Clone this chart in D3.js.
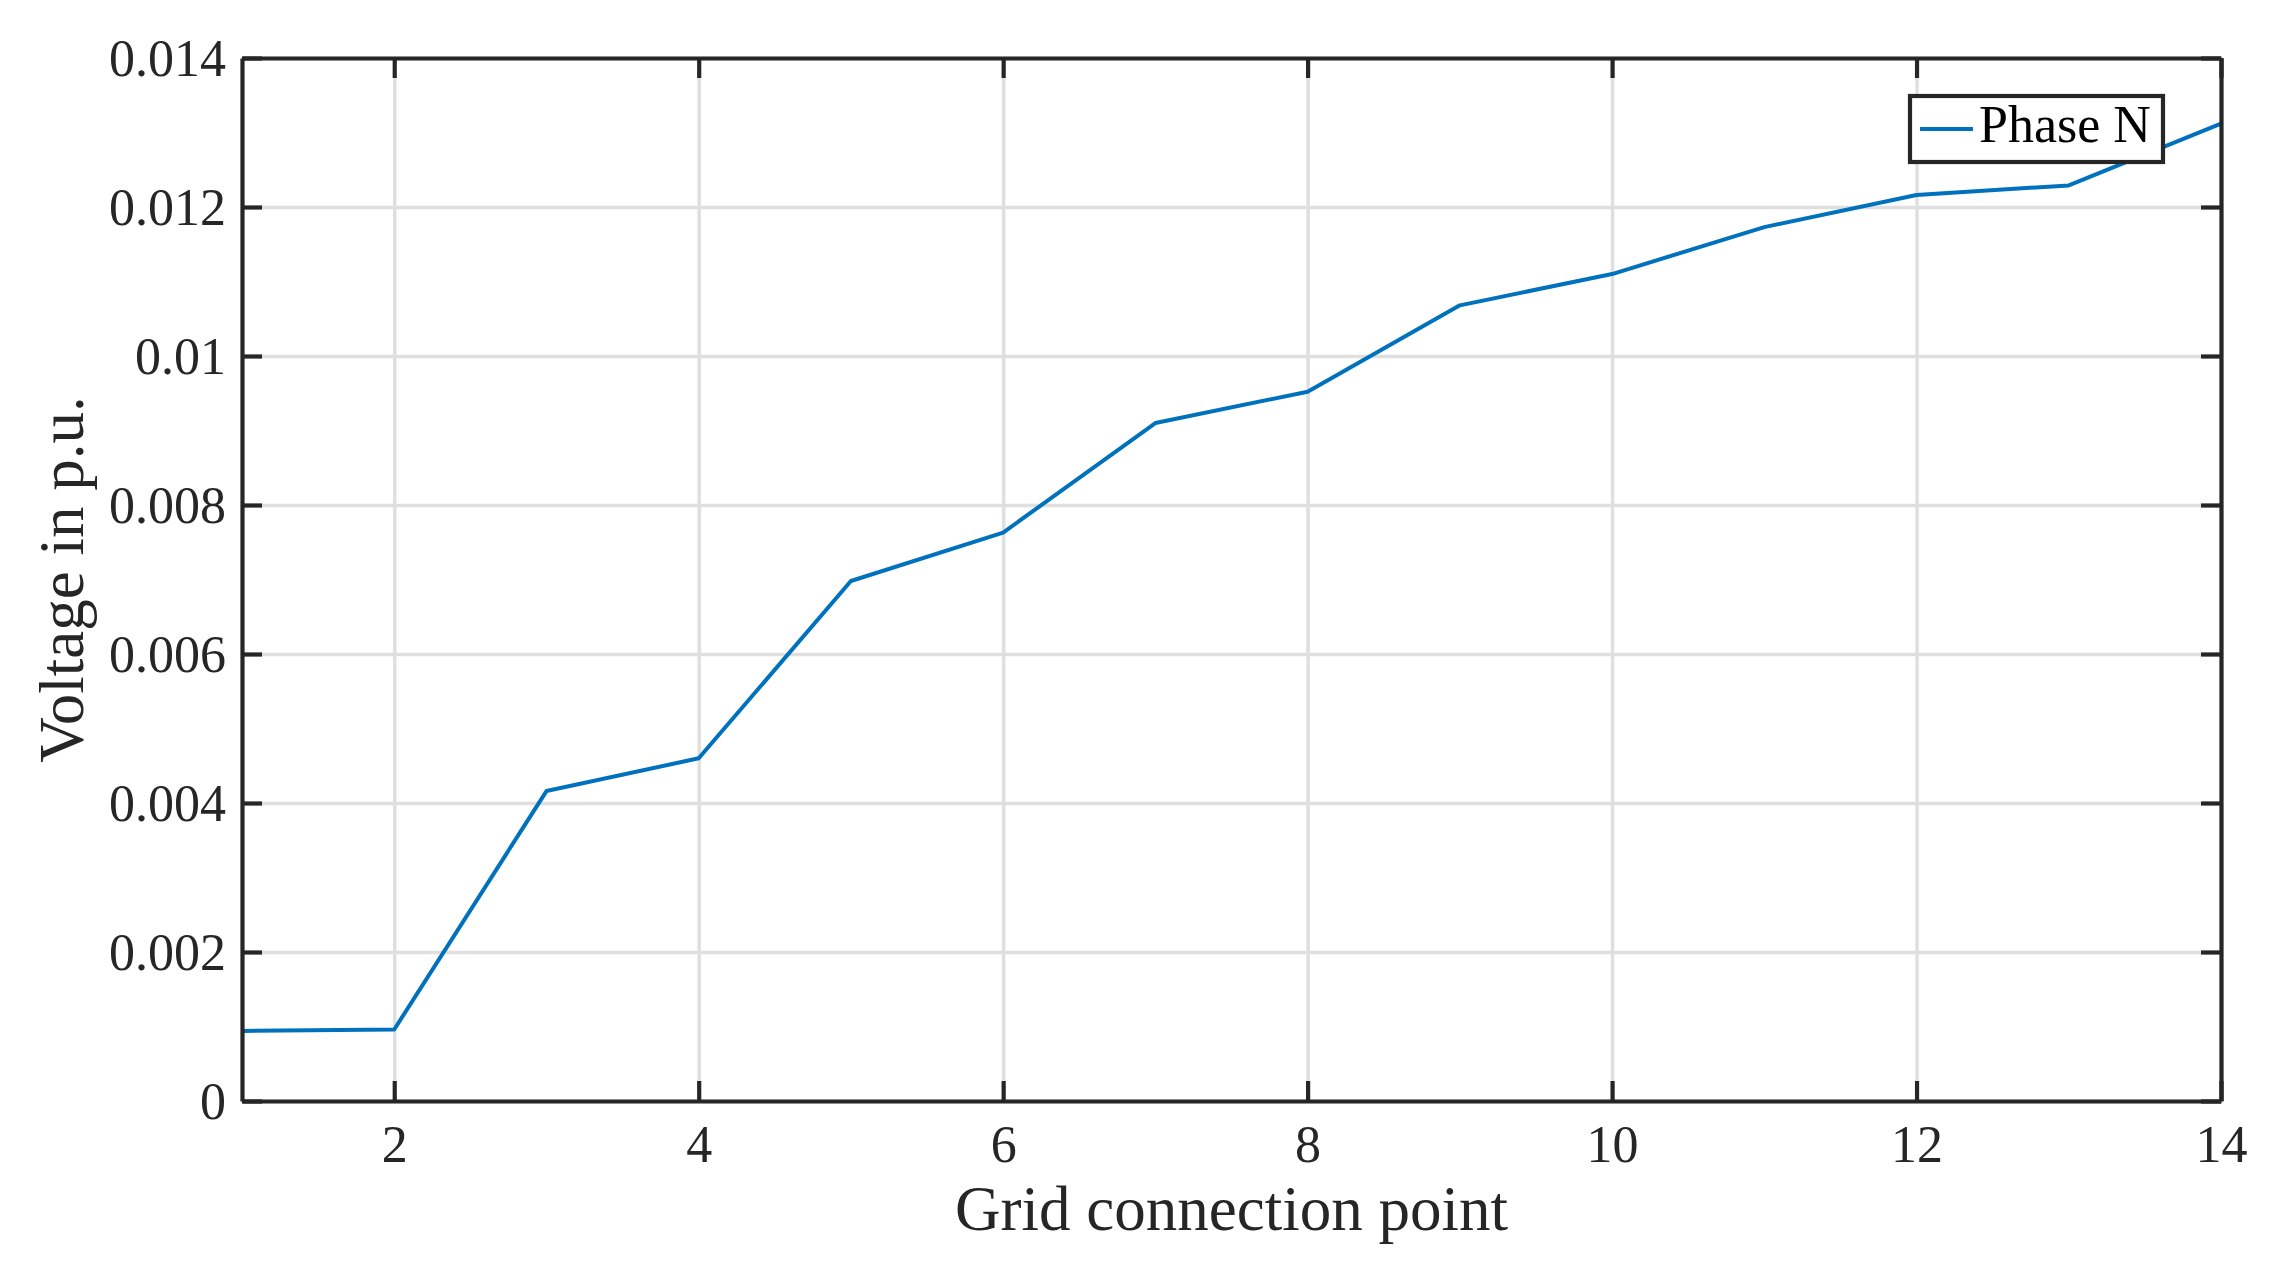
<!DOCTYPE html>
<meta charset="utf-8">
<style>
body { margin:0; background:#fff; }
svg { display:block; }
text { font-family: "Liberation Serif", "DejaVu Serif", serif; fill:#262626; }
.grid line { stroke:#dfdfdf; stroke-width:3.5px; }
.grid path { display:none; }
.axis path, .axis line { stroke:#262626; stroke-width:4.2px; }
.tick text { font-size:52px; }
</style>
<body>
<svg width="2287" height="1285" id="vis"></svg>
</body>
<script src="https://cdnjs.cloudflare.com/ajax/libs/d3/7.8.5/d3.min.js"></script>
<script>
// grid connection points and phase N voltage (p.u.)
var points = [1,2,3,4,5,6,7,8,9,10,11,12,13,14];
var phaseN = [0.00094,0.00096,0.00416,0.00460,0.00698,0.00763,0.00910,0.00952,0.01068,0.01110,0.01173,0.01216,0.01229,0.01312];
var xTicks = [2,4,6,8,10,12,14];
var yTicks = [0,0.002,0.004,0.006,0.008,0.01,0.012,0.014];
var yTickLabels = ["0","0.002","0.004","0.006","0.008","0.01","0.012","0.014"];

var svg = d3.select("svg"),
    margin = {top: 58, right: 66, bottom: 184, left: 242},
    width = +svg.attr("width") - margin.left - margin.right,
    height = +svg.attr("height") - margin.top - margin.bottom;

var x = d3.scaleLinear().domain([1, 14]).range([0, width]),
    y = d3.scaleLinear().domain([0, 0.014]).range([height, 0]);

var g = svg.append("g")
    .attr("transform", "translate(" + margin.left + "," + margin.top + ")");

// grid
g.append("g").attr("class", "grid")
    .attr("transform", "translate(0," + height + ")")
    .call(d3.axisBottom(x).tickValues(xTicks).tickSize(-height).tickFormat(""));
g.append("g").attr("class", "grid")
    .call(d3.axisLeft(y).tickValues(yTicks).tickSize(-width).tickFormat(""));

// data line
var data = points.map(function(p, i){ return {x:p, v:phaseN[i]}; });
g.append("path")
    .datum(data)
    .attr("fill", "none")
    .attr("stroke", "#0072bd")
    .attr("stroke-width", 4)
    .attr("stroke-linejoin", "round")
    .attr("d", d3.line().x(function(d){return x(d.x);}).y(function(d){return y(d.v);}));

// axes, ticks inward on all four sides
var xaxis = g.append("g").attr("class", "axis")
    .attr("transform", "translate(0," + height + ")")
    .call(d3.axisBottom(x).tickValues(xTicks).tickSizeInner(-20).tickSizeOuter(0).tickFormat(d3.format("d")));
xaxis.selectAll("text").attr("y", 0).attr("dy", 0).attr("transform", "translate(0,61)");

var yaxis = g.append("g").attr("class", "axis")
    .call(d3.axisLeft(y).tickValues(yTicks).tickSizeInner(-20).tickSizeOuter(0)
      .tickFormat(function(d, i){ return yTickLabels[i]; }));
yaxis.selectAll("text").attr("x", -16).attr("dy", "0.34em");

g.append("g").attr("class", "axis")
    .call(d3.axisTop(x).tickValues(xTicks).tickSizeInner(-20).tickSizeOuter(0).tickFormat(""));
g.append("g").attr("class", "axis")
    .attr("transform", "translate(" + width + ",0)")
    .call(d3.axisRight(y).tickValues(yTicks).tickSizeInner(-20).tickSizeOuter(0).tickFormat(""));

// labels
svg.append("text")
    .attr("x", margin.left + width / 2)
    .attr("y", 1230)
    .attr("text-anchor", "middle")
    .style("font-size", "63px")
    .text("Grid connection point");

svg.append("text")
    .attr("transform", "translate(83," + (margin.top + height / 2) + ") rotate(-90)")
    .attr("text-anchor", "middle")
    .style("font-size", "63px")
    .text("Voltage in p.u.");

// legend
var legend = svg.append("g").attr("transform", "translate(1910,96)");
legend.append("rect")
    .attr("width", 253).attr("height", 66)
    .attr("fill", "#fff").attr("stroke", "#262626").attr("stroke-width", 4.2);
legend.append("line")
    .attr("x1", 10).attr("x2", 63).attr("y1", 33).attr("y2", 33)
    .attr("stroke", "#0072bd").attr("stroke-width", 4);
legend.append("text")
    .attr("x", 69).attr("y", 46)
    .style("font-size", "52px").style("fill", "#000")
    .text("Phase N");
</script>
